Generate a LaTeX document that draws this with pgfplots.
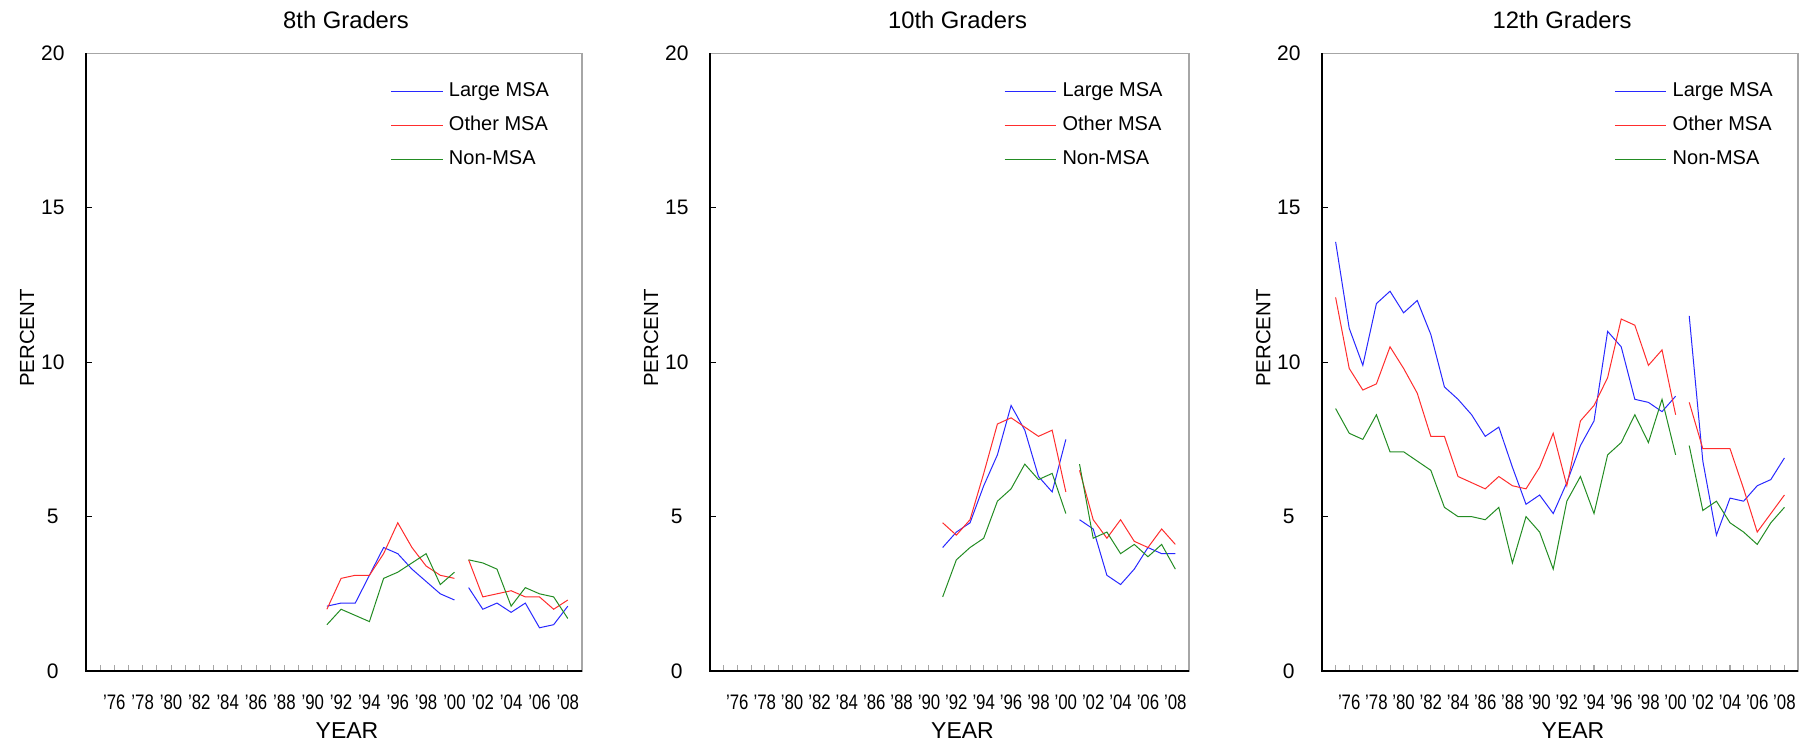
\documentclass[border=0pt]{standalone}
\usepackage{fontspec}
\setmainfont{Liberation Sans}
\newfontfamily\narrowfont[FakeStretch=0.8]{Liberation Sans}
\usepackage{pgfplots}
\pgfplotsset{compat=1.18}

\definecolor{lmsa}{RGB}{40,40,255}
\definecolor{omsa}{RGB}{255,45,45}
\definecolor{nmsa}{RGB}{35,140,35}

\pgfplotsset{
  gradepanel/.style={
    anchor=south west, scale only axis, height=308.75pt,
    xmin=1974, xmax=2009, ymin=0, ymax=20,
    ytick={0,5,10,15,20},
    xtick={1976,1978,...,2008},
    xticklabels={’76,’78,’80,’82,’84,’86,’88,’90,’92,’94,’96,’98,’00,’02,’04,’06,’08},
    minor xtick={1975,...,2008},
    tick align=inside,
    xtick pos=bottom, ytick pos=left,
    major tick length=2.8pt, minor tick length=2.8pt,
    x tick style={gray!70, line width=0.5pt},
    y tick style={black, line width=0.6pt},
    axis line style={gray!70, line width=0.7pt},
    /pgf/number format/assume math mode=true,
    yticklabel style={font=\fontsize{10.5}{12}\selectfont, anchor=center, xshift=-16.6pt},
    xticklabel style={font=\narrowfont\fontsize{10.5}{12}\selectfont, anchor=center, yshift=-15.5pt},
    title style={font=\fontsize{11.9}{14}\selectfont, anchor=center, yshift=10.5pt},
    xlabel=YEAR, ylabel=PERCENT,
    xlabel style={font=\fontsize{11.5}{14}\selectfont, at={(axis description cs:0.5,0)}, anchor=center, yshift=-29.8pt, xshift=6.5pt},
    ylabel style={font=\fontsize{10.2}{12}\selectfont, anchor=center},
    unbounded coords=jump,
    legend style={draw=none, fill=none, font=\fontsize{10}{12}\selectfont,
      inner sep=0pt, outer sep=0pt,
      nodes={inner sep=0pt, text height=7.5pt, text depth=2.5pt},
      at={(axis description cs:0.614,0.954)}, anchor=north west,
      row sep=6.9pt, column sep=2.9pt},
    legend cell align=left,
    legend image code/.code={\draw[#1] (0pt,0pt) -- (25.8pt,0pt);},
    every axis plot/.append style={line width=0.5pt, no marks},
    after end axis/.code={\draw[black, line width=0.7pt] (rel axis cs:0,1) -- (rel axis cs:0,0) -- (rel axis cs:1,0);},
  }
}

\begin{document}
\begin{tikzpicture}
\path[use as bounding box] (0,0) rectangle (903.5pt,374.5pt);

% 8th graders
\begin{axis}[gradepanel, at={(43pt,39pt)}, width=248pt, title={8th Graders},
  title style={xshift=6pt},
  ylabel style={at={(axis description cs:-0.1185,0.539)}}]
\addplot[lmsa] coordinates {(1991,2.1)(1992,2.2)(1993,2.2)(1994,3.1)(1995,4.0)(1996,3.8)(1997,3.3)(1998,2.9)(1999,2.5)(2000,2.3)(2000.5,nan)
  (2001,2.7)(2002,2.0)(2003,2.2)(2004,1.9)(2005,2.2)(2006,1.4)(2007,1.5)(2008,2.1)};
\addplot[omsa] coordinates {(1991,2.0)(1992,3.0)(1993,3.1)(1994,3.1)(1995,3.8)(1996,4.8)(1997,4.0)(1998,3.4)(1999,3.1)(2000,3.0)(2000.5,nan)
  (2001,3.6)(2002,2.4)(2003,2.5)(2004,2.6)(2005,2.4)(2006,2.4)(2007,2.0)(2008,2.3)};
\addplot[nmsa] coordinates {(1991,1.5)(1992,2.0)(1993,1.8)(1994,1.6)(1995,3.0)(1996,3.2)(1997,3.5)(1998,3.8)(1999,2.8)(2000,3.2)(2000.5,nan)
  (2001,3.6)(2002,3.5)(2003,3.3)(2004,2.1)(2005,2.7)(2006,2.5)(2007,2.4)(2008,1.7)};
\legend{Large MSA, Other MSA, Non-MSA}
\end{axis}

% 10th graders
\begin{axis}[gradepanel, at={(355pt,39pt)}, width=239.5pt, title={10th Graders},
  title style={xshift=4pt},
  ylabel style={at={(axis description cs:-0.1228,0.539)}}]
\addplot[lmsa] coordinates {(1991,4.0)(1992,4.5)(1993,4.8)(1994,6.0)(1995,7.0)(1996,8.6)(1997,7.8)(1998,6.3)(1999,5.8)(2000,7.5)(2000.5,nan)
  (2001,4.9)(2002,4.6)(2003,3.1)(2004,2.8)(2005,3.3)(2006,4.0)(2007,3.8)(2008,3.8)};
\addplot[omsa] coordinates {(1991,4.8)(1992,4.4)(1993,4.9)(1994,6.4)(1995,8.0)(1996,8.2)(1997,7.9)(1998,7.6)(1999,7.8)(2000,5.8)(2000.5,nan)
  (2001,6.5)(2002,4.9)(2003,4.3)(2004,4.9)(2005,4.2)(2006,4.0)(2007,4.6)(2008,4.1)};
\addplot[nmsa] coordinates {(1991,2.4)(1992,3.6)(1993,4.0)(1994,4.3)(1995,5.5)(1996,5.9)(1997,6.7)(1998,6.2)(1999,6.4)(2000,5.1)(2000.5,nan)
  (2001,6.7)(2002,4.3)(2003,4.5)(2004,3.8)(2005,4.1)(2006,3.7)(2007,4.1)(2008,3.3)};
\legend{Large MSA, Other MSA, Non-MSA}
\end{axis}

% 12th graders
\begin{axis}[gradepanel, at={(661pt,39pt)}, width=238pt, title={12th Graders},
  title style={xshift=1pt},
  ylabel style={at={(axis description cs:-0.1235,0.539)}}]
\addplot[lmsa] coordinates {(1975,13.9)(1976,11.1)(1977,9.9)(1978,11.9)(1979,12.3)(1980,11.6)(1981,12.0)(1982,10.9)(1983,9.2)(1984,8.8)
  (1985,8.3)(1986,7.6)(1987,7.9)(1988,6.6)(1989,5.4)(1990,5.7)(1991,5.1)(1992,6.1)(1993,7.3)(1994,8.1)
  (1995,11.0)(1996,10.5)(1997,8.8)(1998,8.7)(1999,8.4)(2000,8.9)(2000.5,nan)
  (2001,11.5)(2002,6.8)(2003,4.4)(2004,5.6)(2005,5.5)(2006,6.0)(2007,6.2)(2008,6.9)};
\addplot[omsa] coordinates {(1975,12.1)(1976,9.8)(1977,9.1)(1978,9.3)(1979,10.5)(1980,9.8)(1981,9.0)(1982,7.6)(1983,7.6)(1984,6.3)
  (1985,6.1)(1986,5.9)(1987,6.3)(1988,6.0)(1989,5.9)(1990,6.6)(1991,7.7)(1992,6.0)(1993,8.1)(1994,8.6)
  (1995,9.5)(1996,11.4)(1997,11.2)(1998,9.9)(1999,10.4)(2000,8.3)(2000.5,nan)
  (2001,8.7)(2002,7.2)(2003,7.2)(2004,7.2)(2005,5.9)(2006,4.5)(2007,5.1)(2008,5.7)};
\addplot[nmsa] coordinates {(1975,8.5)(1976,7.7)(1977,7.5)(1978,8.3)(1979,7.1)(1980,7.1)(1981,6.8)(1982,6.5)(1983,5.3)(1984,5.0)
  (1985,5.0)(1986,4.9)(1987,5.3)(1988,3.5)(1989,5.0)(1990,4.5)(1991,3.3)(1992,5.5)(1993,6.3)(1994,5.1)
  (1995,7.0)(1996,7.4)(1997,8.3)(1998,7.4)(1999,8.8)(2000,7.0)(2000.5,nan)
  (2001,7.3)(2002,5.2)(2003,5.5)(2004,4.8)(2005,4.5)(2006,4.1)(2007,4.8)(2008,5.3)};
\legend{Large MSA, Other MSA, Non-MSA}
\end{axis}
\end{tikzpicture}
\end{document}
